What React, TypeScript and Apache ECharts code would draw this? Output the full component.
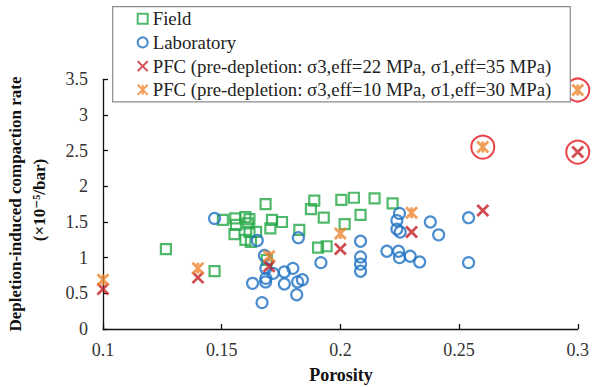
import React, { useEffect, useRef } from "react";
import * as echarts from "echarts";

const fieldPoints: [number, number][] = [
  [0.1265, 1.12], [0.147, 0.81], [0.1505, 1.53], [0.1557, 1.55], [0.16, 1.57],
  [0.1617, 1.54], [0.156, 1.46], [0.161, 1.48], [0.1554, 1.33], [0.1617, 1.36],
  [0.1645, 1.36], [0.16, 1.25], [0.1623, 1.22], [0.1685, 1.75], [0.1712, 1.53],
  [0.1754, 1.5], [0.1705, 1.41], [0.1827, 1.39], [0.169, 0.97], [0.1906, 1.14],
  [0.1942, 1.16], [0.189, 1.8], [0.1876, 1.68], [0.193, 1.56], [0.2004, 1.81],
  [0.2057, 1.84], [0.2144, 1.83], [0.222, 1.76], [0.2085, 1.6], [0.2018, 1.47],
];

const labPoints: [number, number][] = [
  [0.147, 1.55], [0.165, 1.24], [0.1823, 1.28], [0.163, 0.64], [0.1685, 0.66],
  [0.1686, 0.85], [0.1717, 0.78], [0.1764, 0.8], [0.18, 0.85], [0.1764, 0.63],
  [0.182, 0.66], [0.184, 0.69], [0.1816, 0.48], [0.167, 0.37], [0.1918, 0.93],
  [0.168, 1.03], [0.2085, 1.23], [0.2085, 1.01], [0.2085, 0.91], [0.2085, 0.81],
  [0.2196, 1.09], [0.2245, 1.09], [0.2249, 1.0], [0.2294, 1.02], [0.2334, 0.94],
  [0.2249, 1.62], [0.2238, 1.52], [0.2238, 1.4], [0.2252, 1.36], [0.2379, 1.5],
  [0.2414, 1.32], [0.254, 1.56], [0.254, 0.93], [0.1686, 0.71],
];

const pfc22Points: [number, number][] = [
  [0.1, 0.56], [0.14, 0.72], [0.17, 0.88], [0.2, 1.12], [0.23, 1.36], [0.26, 1.66], [0.3, 2.48],
];

const pfc10Points: [number, number][] = [
  [0.1, 0.69], [0.14, 0.85], [0.17, 1.02], [0.2, 1.34], [0.23, 1.63], [0.26, 2.55], [0.3, 3.35],
];

const highlightPoints: [number, number][] = [
  [0.26, 2.55], [0.3, 3.35], [0.3, 2.48],
];

const seriesNames = [
  "Field",
  "Laboratory",
  "PFC (pre-depletion: σ3,eff=22 MPa, σ1,eff=35 MPa)",
  "PFC (pre-depletion: σ3,eff=10 MPa, σ1,eff=30 MPa)",
];

const xTicks = { min: 0.1, max: 0.3, interval: 0.05 };
const yTicks = { min: 0, max: 3.5, interval: 0.5 };

const FONT = "Liberation Serif, Times New Roman, DejaVu Serif, serif";
const CLEAR = "rgba(0,0,0,0)";

export default function App() {
  const ref = useRef<HTMLDivElement>(null);
  useEffect(() => {
    if (!ref.current) return;
    document.body.style.margin = "0";
    const chart = echarts.init(ref.current, null, { renderer: "svg" });
    const axisCommon = {
      axisLine: { show: true, lineStyle: { color: "#111", width: 1.3 } },
      axisTick: { show: true, inside: true, length: 5, lineStyle: { color: "#111", width: 1.3 } },
      splitLine: { show: false },
    };
    chart.setOption({
      animation: false,
      backgroundColor: "#fff",
      grid: { left: 103, right: 13, top: 79.3, bottom: 58, containLabel: false },
      xAxis: {
        type: "value",
        ...xTicks,
        ...axisCommon,
        axisLabel: { fontFamily: FONT, fontSize: 18, color: "#333", margin: 12 },
      },
      yAxis: {
        type: "value",
        ...yTicks,
        ...axisCommon,
        axisLabel: { fontFamily: FONT, fontSize: 18, color: "#333", margin: 15 },
      },
      legend: {
        data: seriesNames,
        orient: "vertical",
        left: 112.7,
        top: 6.7,
        padding: [2, 19, 2, 24],
        itemGap: 3.7,
        itemWidth: 10,
        itemHeight: 10,
        borderColor: "#8a8a8a",
        borderWidth: 1.2,
        backgroundColor: "#fff",
        textStyle: { fontFamily: FONT, fontSize: 18.8, color: "#222", lineHeight: 20 },
      },
      graphic: [
        {
          type: "text",
          x: 15,
          y: 204,
          rotation: Math.PI / 2,
          style: {
            text: "Depletion-induced compaction rate",
            fontFamily: FONT,
            fontSize: 17,
            fontWeight: "bold",
            fill: "#111",
            align: "center",
            verticalAlign: "middle",
          },
        },
        {
          type: "text",
          x: 39,
          y: 200,
          rotation: Math.PI / 2,
          style: {
            text: "(×10⁻⁵/bar)",
            fontFamily: FONT,
            fontSize: 17,
            fontWeight: "bold",
            fill: "#111",
            align: "center",
            verticalAlign: "middle",
          },
        },
        {
          type: "text",
          x: 341,
          y: 375,
          style: {
            text: "Porosity",
            fontFamily: FONT,
            fontSize: 18,
            fontWeight: "bold",
            fill: "#111",
            align: "center",
            verticalAlign: "middle",
          },
        },
      ],
      series: [
        {
          name: seriesNames[0],
          type: "scatter",
          data: fieldPoints,
          symbol: "rect",
          symbolSize: 10,
          clip: false,
          itemStyle: { color: CLEAR, borderColor: "#25a846", borderWidth: 2.2 },
        },
        {
          name: seriesNames[1],
          type: "scatter",
          data: labPoints,
          symbol: "circle",
          symbolSize: 11,
          clip: false,
          itemStyle: { color: CLEAR, borderColor: "#1f72c4", borderWidth: 2.2 },
        },
        {
          name: seriesNames[2],
          type: "scatter",
          data: pfc22Points,
          symbol: "path://M0,0L10,10M10,0L0,10",
          symbolSize: 11,
          clip: false,
          itemStyle: { color: CLEAR, borderColor: "#c42127", borderWidth: 2.8 },
        },
        {
          name: seriesNames[3],
          type: "scatter",
          data: pfc10Points,
          symbol: "path://M0,0L10,10M10,0L0,10M5,0L5,10",
          symbolSize: 11,
          clip: false,
          itemStyle: { color: CLEAR, borderColor: "#ef8632", borderWidth: 2.8 },
        },
        {
          name: "highlight",
          type: "scatter",
          data: highlightPoints,
          symbol: "circle",
          symbolSize: 23,
          clip: false,
          z: 1,
          itemStyle: { color: CLEAR, borderColor: "#e3151c", borderWidth: 2 },
        },
      ],
    });
    return () => chart.dispose();
  }, []);
  return <div ref={ref} style={{ position: "absolute", left: 0, top: 0, width: 592, height: 387 }} />;
}
